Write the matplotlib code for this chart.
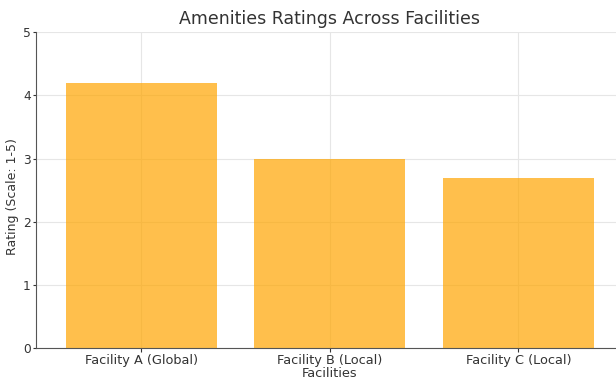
import matplotlib.pyplot as plt

facilities = ["Facility A (Global)", "Facility B (Local)", "Facility C (Local)"]
ratings = [4.2, 3.0, 2.7]

fig = plt.figure(figsize=(6.16, 3.83), dpi=100)
ax = fig.add_axes([0.058, 0.091, 0.955, 0.825])

ax.bar(facilities, ratings, color="orange", alpha=0.7, width=0.8)
ax.set_xlim(-0.56, 2.56)
ax.set_ylim(0, 5)

ax.set_title("Amenities Ratings Across Facilities", fontsize=12.5, color="#333333", pad=6)
ax.set_xlabel("Facilities", fontsize=9.3, color="#333333", labelpad=0)
ax.set_ylabel("Rating (Scale: 1-5)", fontsize=9, color="#333333")
ax.yaxis.set_label_coords(-0.028, 0.48)
ax.tick_params(axis="x", labelsize=9.3, colors="#333333", length=3, pad=1.5)
ax.tick_params(axis="y", labelsize=8.8, colors="#333333", length=2.5, pad=1)
ax.grid(True, color="#e6e6e6", linewidth=0.8)
ax.set_axisbelow(True)
for s in ["top", "right"]:
    ax.spines[s].set_visible(False)
for s in ["left", "bottom"]:
    ax.spines[s].set_color("#555555")

plt.savefig("out.png", dpi=100)
